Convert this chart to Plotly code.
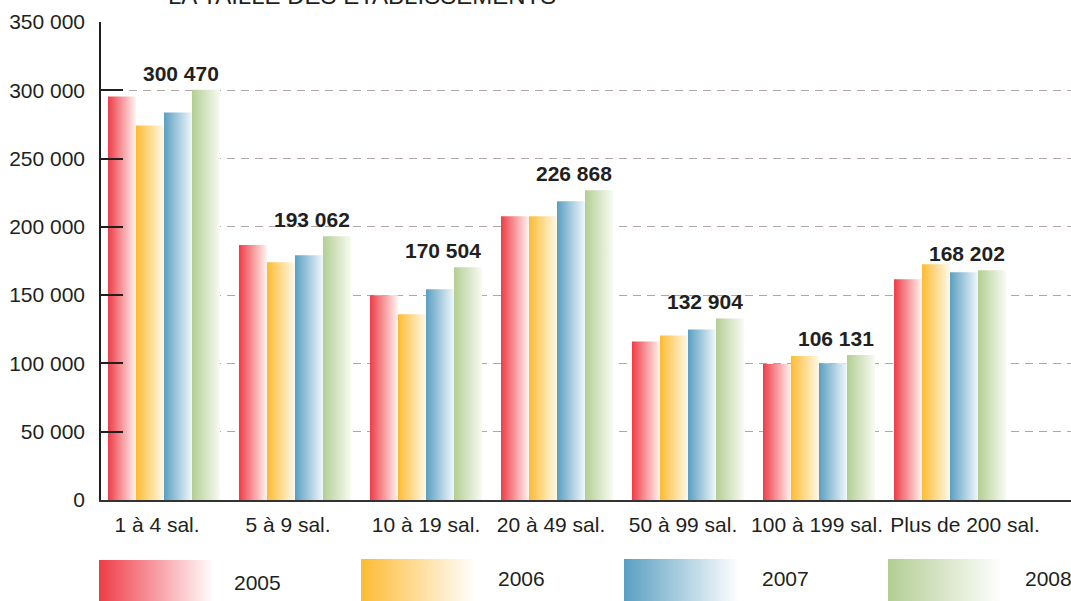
import plotly.graph_objects as go

categories = ["1 à 4 sal.", "5 à 9 sal.", "10 à 19 sal.", "20 à 49 sal.",
              "50 à 99 sal.", "100 à 199 sal.", "Plus de 200 sal."]
years = ["2005", "2006", "2007", "2008"]
v2005 = [295500, 186700, 149900, 207800, 116100, 99500, 161600]
v2006 = [274300, 174100, 136000, 207800, 120500, 105400, 172600]
v2007 = [283800, 179200, 154300, 218800, 124900, 100200, 166800]
v2008 = [300470, 193062, 170504, 226868, 132904, 106131, 168202]
series = [v2005, v2006, v2007, v2008]
label_values = v2008
ytick_vals = [0, 50000, 100000, 150000, 200000, 250000, 300000, 350000]
ytick_text = ["0", "50 000", "100 000", "150 000", "200 000", "250 000", "300 000", "350 000"]

# horizontal nudges (px) of category labels, as laid out in the source
label_nudge_px = [-7, -7, 0, -6, -5, -2, 15]

colors = [("#ee3c47", "#fff4f0"), ("#fdbb33", "#fff9e9"),
          ("#5a9fc1", "#f1f7fc"), ("#b3ce94", "#f8fbf2")]

W, H = 1071, 601
PX = 131.0  # pixels per category
FONT = "Liberation Sans, Arial, sans-serif"
TXT = "#231f20"

def fmt(v):
    return f"{v:,}".replace(",", " ")

fig = go.Figure()

bw = 28 / PX
gw = 4 * bw
for j, (vals, (c0, c1)) in enumerate(zip(series, colors)):
    for i, v in enumerate(vals):
        x0 = i - gw / 2 + j * bw
        x1 = x0 + bw
        fig.add_trace(go.Scatter(
            x=[x0, x0, x1, x1, x0], y=[0, v, v, 0, 0],
            mode="lines", fill="toself", line=dict(width=0, color=c0),
            fillgradient=dict(type="horizontal", colorscale=[[0, c0], [1, c1]]),
            hoverinfo="text", text=f"{years[j]} – {categories[i]}: {fmt(v)}",
            showlegend=False, xaxis="x", yaxis="y"))

# value labels above the 2008 bars
for i, v in enumerate(label_values):
    x1 = i - gw / 2 + 4 * bw
    fig.add_annotation(x=x1 + 0.01, y=v, xref="x", yref="y", text=f"<b>{fmt(v)}</b>",
                       showarrow=False, xanchor="right", yanchor="bottom", yshift=3,
                       font=dict(family=FONT, size=21, color=TXT))

# legend swatches (overlay axis in pixel units)
legend_boxes = [(99, 214, 560), (361, 475, 559), (624, 739, 559), (888, 1002, 559)]
legend_text = [(232, 582), (496, 578), (760, 578), (1023, 578)]
for (xa, xb, yt), (c0, c1), yr, (tx, ty) in zip(legend_boxes, colors, years, legend_text):
    fig.add_trace(go.Scatter(
        x=[xa, xa, xb, xb, xa], y=[601, yt, yt, 601, 601],
        mode="lines", fill="toself", line=dict(width=0, color=c0),
        fillgradient=dict(type="horizontal", colorscale=[[0, c0], [1, "#ffffff"]]),
        hoverinfo="skip", showlegend=False, xaxis="x2", yaxis="y2"))
    fig.add_annotation(x=tx, y=ty, xref="x2", yref="y2", text=yr, showarrow=False,
                       xanchor="left", yanchor="middle",
                       font=dict(family=FONT, size=21, color=TXT))

# cut-off title at the very top (as in the source image)
fig.add_annotation(x=362, y=11, xref="x2", yref="y2", text="LA TAILLE DES ÉTABLISSEMENTS",
                   showarrow=False, xanchor="center", yanchor="bottom",
                   font=dict(family=FONT, size=24, color=TXT))

fig.update_layout(
    width=W, height=H,
    margin=dict(l=0, r=0, t=0, b=0, pad=0, autoexpand=False),
    paper_bgcolor="white", plot_bgcolor="rgba(0,0,0,0)",
    showlegend=False,
    font=dict(family=FONT, color=TXT),
    xaxis=dict(domain=[101 / W, 1.0], range=[(101 - 164) / PX, (1071 - 164) / PX],
               tickmode="array",
               tickvals=[i + n / PX for i, n in enumerate(label_nudge_px)],
               ticktext=categories,
               tickangle=0, automargin=False, ticklabelstandoff=5,
               showgrid=False, zeroline=False, showline=True, linecolor="#333333", linewidth=2,
               ticks="", tickfont=dict(family=FONT, size=21, color=TXT), anchor="y"),
    yaxis=dict(domain=[(H - 500) / H, (H - 22) / H], range=[0, 350000], automargin=False,
               tickmode="array", tickvals=ytick_vals, ticktext=ytick_text,
               showgrid=True, gridcolor="#b3a6a6", gridwidth=1.4, griddash="8px,6px",
               zeroline=False, showline=True, linecolor=TXT, linewidth=1.5,
               ticks="inside", ticklen=22, tickwidth=1.5, tickcolor=TXT,
               ticklabelstandoff=10,
               tickfont=dict(family=FONT, size=21, color=TXT), anchor="x"),
    xaxis2=dict(domain=[0, 1], range=[0, W], visible=False, fixedrange=True, anchor="y2",
                automargin=False),
    yaxis2=dict(domain=[0, 1], range=[H, 0], visible=False, fixedrange=True, anchor="x2",
                automargin=False),
)

fig.write_html("out.html", config={"displayModeBar": False},
               post_script="document.body.style.margin='0';document.body.style.overflow='hidden';")
